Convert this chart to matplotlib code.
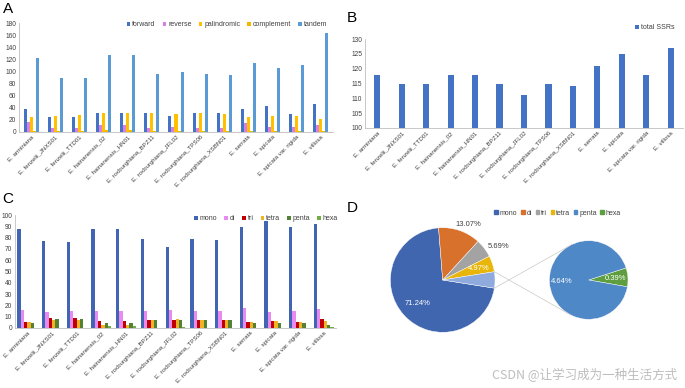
import numpy as np
import matplotlib
matplotlib.use("Agg")
import matplotlib.pyplot as plt

plt.rcParams["font.family"] = ["Liberation Sans", "DejaVu Sans"]

W, H = 685, 388

samples = [
    "E. arminiana", "E. fenzelii_JNXS01", "E. fenzelii_TTD01", "E. hainanensis_02",
    "E. hainanensis_HN01", "E. roxburghiana_BPZ11", "E. roxburghiana_JFL02",
    "E. roxburghiana_TPS06", "E. roxburghiana_XSBN01", "E. serrata", "E. spicata",
    "E. spicata var. rigida", "E. villosa",
]

# panel A: repeat types
forward = [38, 24, 24, 31, 31, 32, 26, 32, 31, 38, 43, 29, 47]
reverse = [16, 7, 7, 11, 11, 7, 8, 7, 7, 15, 9, 9, 11]
palindromic = [24, 26, 28, 31, 31, 31, 29, 31, 30, 25, 27, 26, 21]
complement = [2, 2, 2, 4, 4, 1, 2, 1, 1, 2, 1, 1, 1]
tandem = [123, 89, 89, 127, 127, 96, 99, 96, 94, 114, 105, 111, 163]

# panel B: total SSRs
total_ssrs = [118, 115, 115, 118, 118, 115, 111, 115, 114, 121, 125, 118, 127]

# panel C: SSR motif types
mono = [88, 77, 76, 88, 88, 79, 72, 79, 78, 89, 95, 89, 92]
di = [16, 14, 15, 15, 15, 15, 16, 15, 15, 18, 14, 15, 17]
tri = [5, 9, 9, 6, 6, 7, 7, 7, 7, 5, 6, 5, 8]
tetra = [5, 7, 7, 3, 3, 7, 8, 7, 7, 5, 6, 5, 6]
penta = [4, 8, 8, 4, 4, 7, 7, 7, 7, 4, 4, 4, 3]
hexa = [0, 0, 0, 2, 2, 0, 1, 0, 0, 0, 0, 0, 1]

# panel D: overall percentages
pie_labels = ["mono", "di", "tri", "tetra", "penta", "hexa"]
pie_pct = [71.24, 13.07, 5.69, 4.97, 4.64, 0.39]

GRID = "#BFBFBF"
TXT = "#404040"


def rect(l, t, r, b):
    return [l / W, 1 - b / H, (r - l) / W, (b - t) / H]


def style_axes(ax):
    for s in ("top", "right"):
        ax.spines[s].set_visible(False)
    for s in ("left", "bottom"):
        ax.spines[s].set_color(GRID)
        ax.spines[s].set_linewidth(0.6)
    ax.tick_params(length=0, labelsize=4.8, colors=TXT, pad=2)
    ax.set_xlim(-0.5, len(samples) - 0.5)
    ax.set_xticks(np.arange(len(samples)))
    ax.set_xticklabels(samples, rotation=45, ha="right", rotation_mode="anchor", fontsize=4.4)


def grouped(ax, series, colors, names, width):
    x = np.arange(len(samples))
    n = len(series)
    for i, (vals, c, nm) in enumerate(zip(series, colors, names)):
        ax.bar(x + (i - (n - 1) / 2) * width, vals, width, color=c, label=nm, linewidth=0)


def legend(ax, anchor, ncol, spacing=1.0):
    leg = ax.legend(loc="center right", bbox_to_anchor=anchor, bbox_transform=fig.transFigure,
                    ncol=ncol, frameon=False, fontsize=5, handlelength=0.5, handleheight=0.5,
                    handletextpad=0.3, columnspacing=spacing, borderaxespad=0)
    for t in leg.get_texts():
        t.set_color(TXT)
    return leg


fig = plt.figure(figsize=(W / 100, H / 100), dpi=100)

# ---- A
axA = fig.add_axes(rect(19, 23, 333, 132))
grouped(axA, [forward, reverse, palindromic, complement, tandem],
        ["#4472C4", "#D97FE8", "#FFC000", "#F7B500", "#5B9BD5"],
        ["forward", "reverse", "palindromic", "complement", "tandem"], 0.125)
style_axes(axA)
axA.set_ylim(0, 180)
axA.set_yticks(range(0, 181, 20))
legend(axA, (330 / W, 1 - 24.5 / H), 5)
fig.text(3 / W, 1 - 13 / H, "A", fontsize=11, color="black")

# ---- B
axB = fig.add_axes(rect(365, 39, 683, 128))
axB.bar(np.arange(len(samples)), total_ssrs, 0.25, color="#4472C4", label="total SSRs", linewidth=0)
style_axes(axB)
axB.set_ylim(100, 130)
axB.set_yticks(range(100, 131, 5))
legend(axB, (677 / W, 1 - 27.5 / H), 1)
fig.text(347 / W, 1 - 22 / H, "B", fontsize=11, color="black")

# ---- C
axC = fig.add_axes(rect(15, 215, 336, 328))
grouped(axC, [mono, di, tri, tetra, penta, hexa],
        ["#4165B2", "#E98AF2", "#C00000", "#F2B224", "#548235", "#70AD47"],
        ["mono", "di", "tri", "tetra", "penta", "hexa"], 0.134)
style_axes(axC)
axC.set_ylim(0, 100)
axC.set_yticks(range(0, 101, 10))
legend(axC, (341 / W, 1 - 219 / H), 6)
fig.text(2 / W, 1 - 203 / H, "C", fontsize=11, color="black")

# ---- D (bar of pie)
axD = fig.add_axes(rect(345, 195, 685, 388))

main_vals = pie_pct[:4] + [pie_pct[4] + pie_pct[5]]
main_cols = ["#4166B0", "#D8712B", "#A3A3A3", "#E8B60A", "#8FAADC"]
c1, r1 = (97.7, 108), 52.3
w1, _ = axD.pie(main_vals, colors=main_cols, center=c1, radius=r1, startangle=-9,
                counterclock=False, wedgeprops=dict(linewidth=0.3, edgecolor="white"),
                frame=True)

sub_vals = [pie_pct[5], pie_pct[4]]
sub_cols = ["#5E9E3E", "#4E88C6"]
c2, r2 = (243.7, 108), 39.3
w2, _ = axD.pie(sub_vals, colors=sub_cols, center=c2, radius=r2, startangle=-10,
                counterclock=True, wedgeprops=dict(linewidth=0.3, edgecolor="white"),
                frame=True)
axD.set_xlim(0, 340)
axD.set_ylim(0, 193)
axD.set_aspect("equal")
axD.axis("off")


def put(wedge, c, r, frac, text, color, ang_shift=0):
    a = np.deg2rad((wedge.theta1 + wedge.theta2) / 2 + ang_shift)
    axD.text(c[0] + frac * r * np.cos(a), c[1] + frac * r * np.sin(a), text,
             ha="center", va="center", fontsize=5.5, color=color)


put(w1[0], c1, r1, 0.65, f"{pie_pct[0]:.2f}%", "white")
put(w1[1], c1, r1, 1.17, f"{pie_pct[1]:.2f}%", TXT, -6)
put(w1[2], c1, r1, 1.24, f"{pie_pct[2]:.2f}%", TXT, -6)
put(w1[3], c1, r1, 0.72, f"{pie_pct[3]:.2f}%", "white")
put(w2[1], c2, r2, 0.7, f"{pie_pct[4]:.2f}%", "white")
put(w2[0], c2, r2, 0.69, f"{pie_pct[5]:.2f}%", "white")

# connector lines
other = w1[4]
for a1, a2 in ((other.theta1, 115), (other.theta2, -117)):
    p1 = (c1[0] + r1 * np.cos(np.deg2rad(a1)), c1[1] + r1 * np.sin(np.deg2rad(a1)))
    p2 = (c2[0] + r2 * np.cos(np.deg2rad(a2)), c2[1] + r2 * np.sin(np.deg2rad(a2)))
    axD.plot([p1[0], p2[0]], [p1[1], p2[1]], color="#C8C8C8", linewidth=0.5)

handles = [plt.Rectangle((0, 0), 1, 1, color=c) for c in main_cols[:4] + sub_cols[::-1]]
leg = axD.legend(handles, pie_labels, loc="center right", bbox_to_anchor=(624 / W, 1 - 213 / H),
                 bbox_transform=fig.transFigure, ncol=6, frameon=False, fontsize=5,
                 handlelength=0.5, handleheight=0.5, handletextpad=0.3, columnspacing=0.5,
                 borderaxespad=0)
for t in leg.get_texts():
    t.set_color(TXT)
fig.text(347 / W, 1 - 212 / H, "D", fontsize=11, color="black")

fig.text(677 / W, 1 - 375 / H, "CSDN @让学习成为一种生活方式", ha="right", va="center",
         fontsize=9, color="#BDBDBD", family=["Noto Sans CJK SC", "DejaVu Sans"])

fig.savefig("out.png", dpi=100)
